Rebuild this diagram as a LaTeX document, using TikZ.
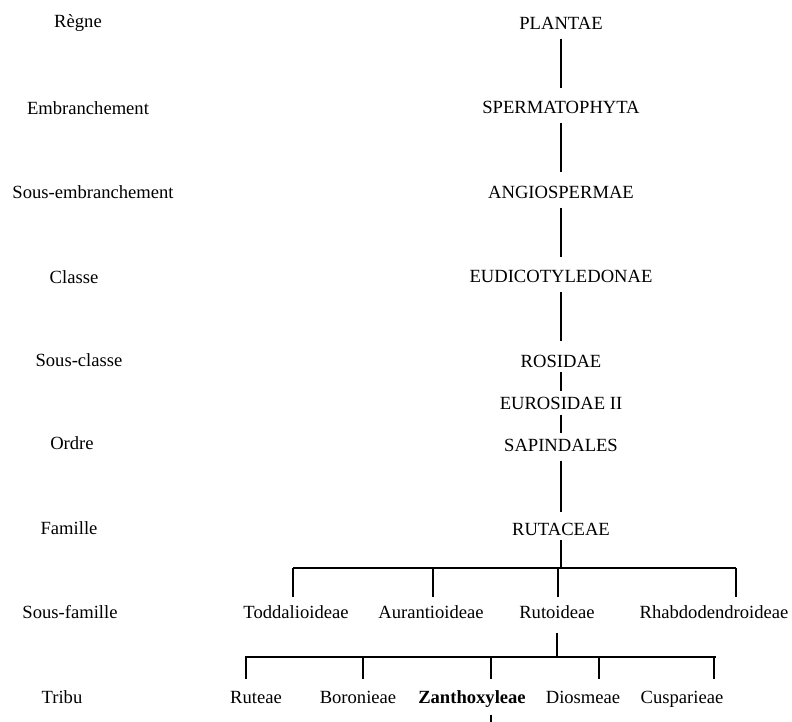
\documentclass[tikz,border=0pt]{standalone}
\usepackage{fontspec}
\setmainfont{Liberation Serif}
\usepackage{tikz}
\usetikzlibrary{positioning}

\begin{document}
\begin{tikzpicture}[x=0.5pt,y=-0.5pt,node distance=42.25pt,line width=0.7pt]
  \tikzstyle{every node}=[font=\fontsize{9.3}{11}\selectfont]
  \tikzstyle{niveau}=[inner sep=2pt]
  \tikzstyle{taxon}=[text height=6.2pt,text depth=0pt,inner xsep=2pt,inner ysep=4.4pt]
  \tikzstyle{sousfam}=[text height=6.5pt,text depth=0pt,inner xsep=2pt,inner ysep=3.75pt]
  \tikzstyle{tribe}=[text height=6.5pt,text depth=0pt,inner xsep=2pt,inner ysep=5.25pt]
  \useasboundingbox (0,0) rectangle (792,722);
  % rangs
  \node [niveau] (regne)      at (78,23)  {Règne};
  \node [niveau] (embr)       at (88,108) {Embranchement};
  \node [niveau] (sousembr)   at (93,192) {Sous-embranchement};
  \node [niveau] (classe)     at (74,277) {Classe};
  \node [niveau] (sousclasse) at (79,360) {Sous-classe};
  \node [niveau] (ordre)      at (72,443) {Ordre};
  \node [niveau] (famille)    at (69,528) {Famille};
  \node [niveau] (sousfamille) at (70,612) {Sous-famille};
  \node [niveau] (tribu)      at (62,697) {Tribu};
  % classification
  \node [taxon] (plantae) at (561,23) {PLANTAE};
  \node [taxon] (spermato) [below of=plantae] {SPERMATOPHYTA};
  \node [taxon] (angio) [below of=spermato] {ANGIOSPERMAE};
  \node [taxon] (eudico) [below of=angio] {EUDICOTYLEDONAE};
  \node [taxon] (rosidae) [below of=eudico] {ROSIDAE};
  \node [taxon] (eurosid) [below of=rosidae,node distance=21pt] {EUROSIDAE II};
  \node [taxon] (sapind) [below of=eurosid,node distance=21pt] {SAPINDALES};
  \node [taxon] (rutaceae) [below of=sapind] {RUTACEAE};
  \draw [shorten >=2pt] (plantae) -- (spermato);
  \draw [shorten >=2pt] (spermato) -- (angio);
  \draw [shorten >=2pt] (angio) -- (eudico);
  \draw [shorten >=2pt] (eudico) -- (rosidae);
  \draw [shorten <=-2.2pt,shorten >=-1.6pt] (rosidae) -- (eurosid);
  \draw [shorten <=-2pt,shorten >=-1.6pt] (eurosid) -- (sapind);
  \draw [shorten >=1pt] (sapind) -- (rutaceae);
  % sous-familles
  \coordinate (sfj) at (561,568);
  \coordinate (sf1) at (293,568);
  \coordinate (sf2) at (433,568);
  \coordinate (sf3) at (558,568);
  \coordinate (sf4) at (736,568);
  \node [sousfam] (toddal)  at (296,612) {Toddalioideae};
  \node [sousfam] (auranti) at (431,612) {Aurantioideae};
  \node [sousfam] (rutoid)  at (557,612) {Rutoideae};
  \node [sousfam] (rhabdo)  at (714,612) {Rhabdodendroideae};
  \draw [shorten <=-2.5pt] (rutaceae) -- (sfj);
  \draw (sf1) -- (sf4);
  \draw (sf1) -- (sf1 |- toddal.north);
  \draw (sf2) -- (sf2 |- auranti.north);
  \draw (sf3) -- (sf3 |- rutoid.north);
  \draw (sf4) -- (sf4 |- rhabdo.north);
  % tribus
  \coordinate (tr0) at (245,657);
  \coordinate (tr1) at (246,657);
  \coordinate (tr2) at (363,657);
  \coordinate (tr3) at (491,657);
  \coordinate (tr4) at (599,657);
  \coordinate (tr5) at (714,657);
  \coordinate (trf) at (716,657);
  \coordinate (suite) at (491,722);
  \node [tribe] (ruteae) at (256,697) {Ruteae};
  \node [tribe] (boron)  at (358,697) {Boronieae};
  \node [tribe] (zanth)  at (472,697) {\textbf{Zanthoxyleae}};
  \node [tribe] (diosm)  at (583,697) {Diosmeae};
  \node [tribe] (cuspar) at (682,697) {Cusparieae};
  \draw [shorten <=3pt] (rutoid.south) -- (rutoid.south |- tr0);
  \draw (tr0) -- (trf);
  \draw (tr1) -- (tr1 |- ruteae.north);
  \draw (tr2) -- (tr2 |- boron.north);
  \draw (tr3) -- (tr3 |- zanth.north);
  \draw (tr4) -- (tr4 |- diosm.north);
  \draw (tr5) -- (tr5 |- cuspar.north);
  \draw (suite |- zanth.south) -- (suite);
\end{tikzpicture}
\end{document}
